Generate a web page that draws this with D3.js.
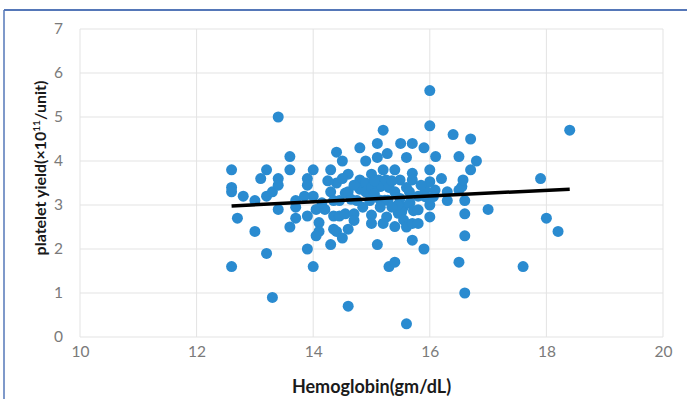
<!DOCTYPE html>
<html>
<head>
<meta charset="utf-8">
<script src="https://cdn.jsdelivr.net/npm/d3@7"></script>
<style>
  body { margin: 0; background: #fff; }
  svg { display: block; font-family: Lato, "Open Sans", sans-serif; }
</style>
</head>
<body>
<svg id="chart"></svg>
<script>
// hemoglobin (gm/dL) per donation
const hbValues = [
  12.6, 12.6, 12.6, 12.6, 12.7, 12.8, 13.0, 13.0, 13.1, 13.2,
  13.2, 13.2, 13.3, 13.3, 13.4, 13.4, 13.4, 13.4, 13.6, 13.6,
  13.6, 13.7, 13.7, 13.7, 13.9, 13.9, 13.9, 13.9, 14.0, 14.0,
  14.0, 14.05, 14.1, 14.1, 14.05, 14.2, 14.3, 14.3, 14.3, 14.35,
  14.35, 14.35, 14.4, 14.4, 14.45, 14.45, 14.4, 14.5, 14.5, 14.55,
  14.55, 14.6, 14.6, 14.6, 14.6, 14.65, 14.7, 14.7, 14.75, 14.8,
  14.8, 14.8, 14.9, 14.9, 15.0, 14.97, 15.0, 15.0, 15.1, 15.1,
  15.12, 15.15, 15.15, 15.1, 15.2, 15.27, 15.2, 15.25, 15.23, 15.28,
  15.26, 15.2, 15.3, 15.4, 15.4, 15.5, 15.49, 15.49, 15.55, 15.46,
  15.52, 15.55, 15.4, 15.6, 15.6, 15.6, 15.6, 15.66, 15.7, 15.7,
  15.7, 15.72, 15.7, 15.7, 15.8, 15.8, 15.9, 15.92, 15.92, 15.9,
  16.0, 16.0, 16.0, 16.0, 16.0, 16.0, 16.09, 16.06, 16.1, 16.3,
  16.3, 16.4, 16.5, 16.5, 16.55, 16.57, 16.6, 16.6, 16.6, 16.5,
  16.6, 16.7, 16.7, 16.8, 17.0, 17.6, 17.9, 18.0, 18.2, 18.4,
  14.9, 15.0, 15.05, 15.3, 15.35, 15.4, 15.45, 15.35, 15.15, 14.85,
  14.7, 15.05, 14.25, 15.65, 15.8, 15.85, 16.2, 14.15, 13.85, 14.5
];
// platelet yield (x10^11 / unit)
const yieldValues = [
  3.8, 3.4, 3.3, 1.6, 2.7, 3.2, 3.1, 2.4, 3.6, 3.8,
  3.2, 1.9, 3.3, 0.9, 5.0, 3.6, 3.45, 2.9, 4.1, 3.8,
  2.5, 3.1, 2.95, 2.7, 3.6, 3.45, 2.75, 2.0, 3.8, 3.2,
  1.6, 2.9, 2.6, 2.4, 2.3, 2.9, 3.8, 3.3, 2.1, 3.1,
  2.75, 2.45, 4.2, 3.5, 3.1, 2.75, 2.4, 4.0, 2.25, 2.8,
  3.27, 3.7, 3.3, 2.45, 0.7, 3.13, 2.8, 2.65, 3.1, 4.3,
  3.57, 3.36, 3.5, 4.0, 3.7, 3.1, 2.77, 2.58, 4.4, 4.08,
  3.57, 3.42, 3.11, 2.1, 4.7, 4.17, 3.8, 3.57, 3.11, 3.11,
  2.73, 2.58, 1.6, 1.7, 3.8, 4.4, 3.57, 3.15, 2.96, 2.81,
  2.85, 2.66, 2.51, 4.08, 3.4, 2.5, 0.3, 3.05, 4.4, 3.72,
  3.57, 2.87, 2.58, 2.2, 2.58, 2.89, 4.3, 3.34, 3.19, 2.0,
  5.6, 4.8, 3.8, 3.53, 3.0, 2.73, 3.34, 3.19, 4.1, 3.3,
  3.1, 4.6, 4.1, 3.34, 3.42, 3.57, 3.1, 2.8, 2.3, 1.7,
  1.0, 4.5, 3.8, 4.0, 2.9, 1.6, 3.6, 2.7, 2.4, 4.7,
  3.3, 3.4, 3.25, 3.4, 3.55, 3.3, 3.0, 2.95, 2.95, 2.95,
  3.45, 3.55, 3.55, 3.3, 3.2, 3.45, 3.6, 3.05, 3.2, 3.6
];
// linear trendline end points
const trendX = [12.6, 18.4];
const trendY = [2.98, 3.36];

const xTicks = [10, 12, 14, 16, 18, 20];
const yTicks = [0, 1, 2, 3, 4, 5, 6, 7];

const width = 687, height = 399;
const margin = { top: 29, right: 24, bottom: 62, left: 80 };

const svg = d3.select("#chart").attr("width", width).attr("height", height);

// frame lines of the figure box
svg.append("line").attr("x1", 4).attr("x2", width).attr("y1", 10).attr("y2", 10)
  .attr("stroke", "#5577b8").attr("stroke-width", 2.2);
svg.append("line").attr("x1", 4).attr("x2", 4).attr("y1", 10).attr("y2", height)
  .attr("stroke", "#5577b8").attr("stroke-width", 1.5);

const x = d3.scaleLinear().domain([10, 20]).range([margin.left, width - margin.right]);
const y = d3.scaleLinear().domain([0, 7]).range([height - margin.bottom, margin.top]);

// grid
svg.append("g").selectAll("line").data(yTicks).join("line")
  .attr("x1", x(10)).attr("x2", x(20))
  .attr("y1", d => y(d)).attr("y2", d => y(d))
  .attr("stroke", "#e3e3e3").attr("stroke-width", 1);
svg.append("g").selectAll("line").data(xTicks).join("line")
  .attr("y1", y(0)).attr("y2", y(7))
  .attr("x1", d => x(d)).attr("x2", d => x(d))
  .attr("stroke", "#e3e3e3").attr("stroke-width", 1);

// axes (labels only)
const xAxis = svg.append("g")
  .attr("transform", "translate(0," + (y(0) + 5) + ")")
  .call(d3.axisBottom(x).tickValues(xTicks).tickFormat(d3.format("d")).tickSize(0).tickPadding(4));
const yAxis = svg.append("g")
  .attr("transform", "translate(" + (x(10) - 11) + ",0)")
  .call(d3.axisLeft(y).tickValues(yTicks).tickFormat(d3.format("d")).tickSize(0).tickPadding(6));
[xAxis, yAxis].forEach(g => {
  g.select(".domain").remove();
  g.selectAll("text").attr("fill", "#7a7a7a").style("font-size", "15.5px")
    .style("font-family", "Lato, 'Open Sans', sans-serif");
});

// points
const pts = hbValues.map((h, i) => ({ hb: h, yield: yieldValues[i] }));
svg.append("g").selectAll("circle").data(pts).join("circle")
  .attr("cx", d => x(d.hb))
  .attr("cy", d => y(d.yield))
  .attr("r", 5.5)
  .attr("fill", "#2a8bd0");

// trendline
svg.append("path")
  .datum(trendX.map((v, i) => [v, trendY[i]]))
  .attr("d", d3.line().x(d => x(d[0])).y(d => y(d[1])))
  .attr("stroke", "#000").attr("stroke-width", 3.5).attr("fill", "none");

// axis titles
svg.append("text")
  .attr("x", (x(10) + x(20)) / 2).attr("y", 393)
  .attr("text-anchor", "middle")
  .style("font-size", "18px").style("font-weight", "bold").attr("fill", "#1a1a1a")
  .text("Hemoglobin(gm/dL)");

const yTitle = svg.append("text")
  .attr("transform", "translate(46,168) rotate(-90)")
  .attr("text-anchor", "middle")
  .style("font-size", "16px").style("font-weight", "bold").attr("fill", "#1a1a1a");
yTitle.append("tspan").text("platelet yield(×10");
yTitle.append("tspan").attr("dy", -6).style("font-size", "10px").text("11");
yTitle.append("tspan").attr("dy", 6).text("/unit)");
</script>
</body>
</html>
